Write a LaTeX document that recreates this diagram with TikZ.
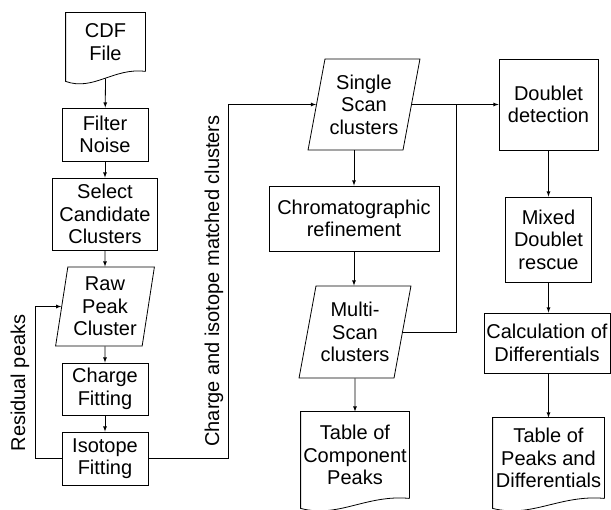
\documentclass[tikz,border=0pt]{standalone}
\usepackage{fontspec}
\setmainfont{Liberation Sans}
\usetikzlibrary{arrows,calc}
\usetikzlibrary{shapes.geometric}

% outline of a document node with a wavy bottom
\newcommand{\docshape}[1]{%
  \draw (#1.south east) -- (#1.north east) -- (#1.north west)
    -- ([yshift=-10pt]#1.south west)
    .. controls ($(#1.south west)!0.35!(#1.south east)+(0,-20pt)$)
    and ($(#1.south west)!0.6!(#1.south east)+(0,4pt)$) .. (#1.south east);}

\begin{document}
\begin{tikzpicture}
[x = 1pt, y = -1pt,
 line width = 0.8pt,
 base/.style = {font = \fontsize{20pt}{22.5pt}\selectfont, align = center, inner sep = 1pt},
 proc/.style = {base, draw, rectangle},
 data/.style = {base, draw, trapezium, trapezium left angle = 76,
                trapezium right angle = 104, trapezium stretches = true},
 doc/.style = {base, rectangle},
 line/.style = {->, >=latex}]

\useasboundingbox (0,0) rectangle (611,510);

% left column
\node[doc, minimum width = 79pt, minimum height = 58pt] (cdf) at (105.5,42) {CDF\\File};
\docshape{cdf}

\node[proc, minimum width = 86pt, minimum height = 53pt] (filter) at (105,134.5) {Filter\\Noise};
\node[proc, minimum width = 105pt, minimum height = 72pt] (select) at (105,214) {Select\\Candidate\\Clusters};
\node[data, trapezium left angle = 80, trapezium right angle = 100,
      minimum width = 99pt, minimum height = 79pt] (raw) at (105,306.5) {Raw\\Peak\\Cluster};
\node[proc, minimum width = 86pt, minimum height = 52pt] (charge) at (105,389) {Charge\\Fitting};
\node[proc, minimum width = 86pt, minimum height = 53pt] (isotope) at (105,458.5) {Isotope\\Fitting};

\node[base, rotate = 90] (resid) at (20,383) {Residual peaks};
\node[base, rotate = 90] (matched) at (214,281) {Charge and isotope matched clusters};

% middle column
\node[data, minimum width = 112pt, minimum height = 91pt] (single) at (364,104.5) {Single\\Scan\\clusters};
\node[proc, minimum width = 170pt, minimum height = 65pt] (chrom) at (354,218.5) {Chromatographic\\refinement};
\node[data, minimum width = 112pt, minimum height = 92pt] (multi) at (355,332) {Multi-\\Scan\\clusters};
\node[doc, minimum width = 108pt, minimum height = 86pt] (tablec) at (355,455) {Table of\\Component\\Peaks};
\docshape{tablec}

% right column
\node[proc, minimum width = 99pt, minimum height = 91pt] (doublet) at (548.5,104.5) {Doublet\\detection};
\node[proc, minimum width = 86pt, minimum height = 85pt] (mixed) at (548.5,239.5) {Mixed\\Doublet\\rescue};
\node[proc, minimum width = 126pt, minimum height = 60pt] (calc) at (547,343) {Calculation of\\Differentials};
\node[doc, minimum width = 111pt, minimum height = 80pt] (tablep) at (548.5,458) {Table of\\Peaks and\\Differentials};
\docshape{tablep}

\coordinate (join) at (456,104.5);

\draw[line] ([yshift = -7pt]cdf.south) -- (filter);
\draw[line] (filter) -- (select);
\draw[line] (select) -- (raw);
\draw[line] (raw) -- (charge);
\draw[line] (charge) -- (isotope);
\draw[line] (isotope.west) -- ++(-26,0) |- (raw.west);
\draw[line] (isotope.east) -- ++(80,0) |- (single.west);

\draw[line] (chrom.north |- single.south) -- (chrom.north);
\draw[line] (chrom.south) -- (chrom.south |- multi.north);
\draw[line] (multi) -- (tablec);
\draw[line] (single.east) -- (doublet.west);
\draw (multi.east) -| (join);

\draw[line] (doublet) -- (mixed);
\draw[line] (mixed.south) -- (mixed.south |- calc.north);
\draw[line] (tablep.north |- calc.south) -- (tablep.north);

\end{tikzpicture}
\end{document}
